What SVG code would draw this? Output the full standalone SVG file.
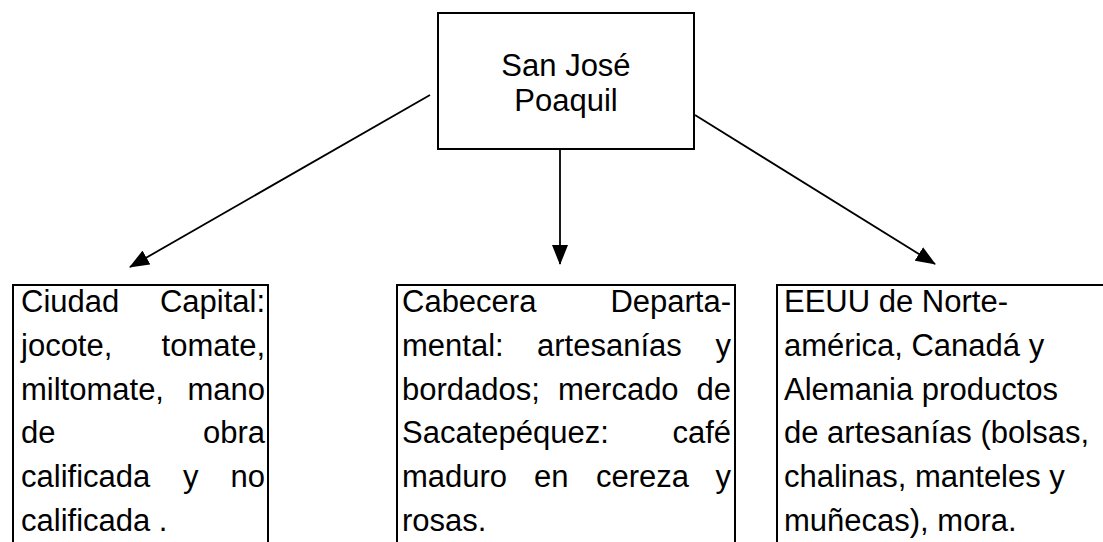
<svg xmlns="http://www.w3.org/2000/svg" width="1103" height="542" viewBox="0 0 1103 542">
<style>
  .box { fill: #ffffff; stroke: #000000; stroke-width: 2; }
  .conn { fill: none; stroke: #000000; stroke-width: 1.8; }
  text { font-family: "Liberation Sans", Arial, sans-serif; font-size: 31px; fill: #000000; }
  .mid { text-anchor: middle; }
  .end { text-anchor: end; }
</style>
<defs>
  <marker id="arrow" markerUnits="userSpaceOnUse" markerWidth="20" markerHeight="16" refX="19" refY="8" orient="auto">
    <path d="M0,0 L20,8 L0,16 z" fill="#000000"/>
  </marker>
</defs>
<rect width="1103" height="542" fill="#ffffff"/>

<g id="connectors">
  <line class="conn" x1="430" y1="95" x2="130" y2="267" marker-end="url(#arrow)"/>
  <line class="conn" x1="560" y1="149" x2="560" y2="264" marker-end="url(#arrow)"/>
  <line class="conn" x1="695" y1="115" x2="935" y2="264" marker-end="url(#arrow)"/>
</g>

<g id="node-san-jose">
  <rect class="box" x="438" y="13" width="256" height="136"/>
  <text class="mid" x="566" y="76">San José</text>
  <text class="mid" x="566" y="111">Poaquil</text>
</g>

<g id="node-ciudad-capital">
  <rect class="box" x="13" y="285" width="255" height="280"/>
  <text x="21" y="312">Ciudad</text><text class="end" x="265" y="312">Capital:</text>
  <text x="21" y="356">jocote,</text><text class="end" x="265" y="356">tomate,</text>
  <text x="21" y="400">miltomate,</text><text class="end" x="265" y="400">mano</text>
  <text x="21" y="443">de</text><text class="end" x="265" y="443">obra</text>
  <text x="21" y="487">calificada</text><text x="183" y="487">y</text><text class="end" x="265" y="487">no</text>
  <text x="21" y="531">calificada .</text>
</g>

<g id="node-cabecera">
  <rect class="box" x="397" y="285" width="338" height="280"/>
  <text x="402" y="312">Cabecera</text><text class="end" x="731" y="312">Departa-</text>
  <text x="402" y="356">mental:</text><text x="537" y="356">artesanías</text><text class="end" x="731" y="356">y</text>
  <text x="402" y="400">bordados;</text><text x="558" y="400">mercado</text><text class="end" x="731" y="400">de</text>
  <text x="402" y="443">Sacatepéquez:</text><text class="end" x="731" y="443">café</text>
  <text x="402" y="487">maduro</text><text x="534" y="487">en</text><text x="596" y="487">cereza</text><text class="end" x="731" y="487">y</text>
  <text x="402" y="531">rosas.</text>
</g>

<g id="node-eeuu">
  <rect class="box" x="777" y="285" width="340" height="280"/>
  <text x="784" y="312">EEUU de Norte-</text>
  <text x="784" y="356">américa, Canadá y</text>
  <text x="784" y="400">Alemania productos</text>
  <text x="784" y="443">de artesanías (bolsas,</text>
  <text x="784" y="487">chalinas, manteles y</text>
  <text x="784" y="531">muñecas), mora.</text>
</g>
</svg>
